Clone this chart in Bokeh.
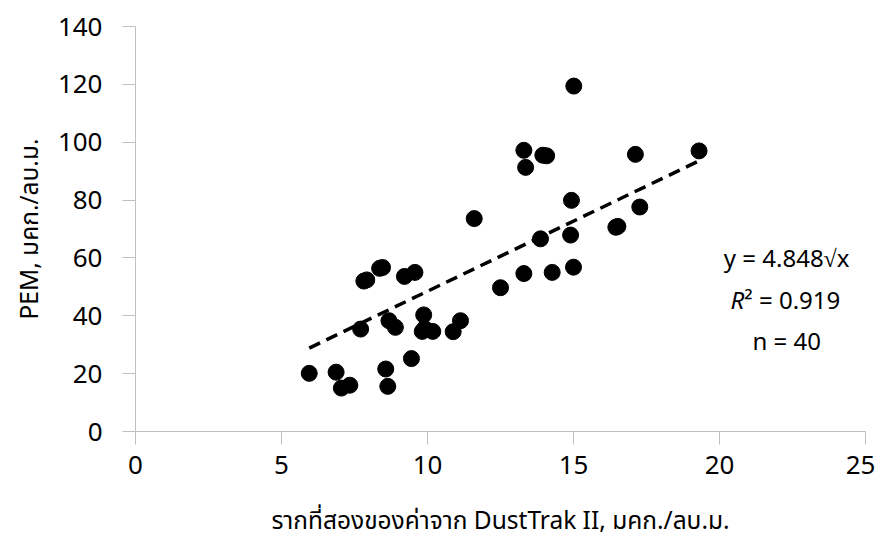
from bokeh.plotting import figure
from bokeh.models import ColumnDataSource, Range1d, FixedTicker, Label
from bokeh.embed import file_html
from bokeh.resources import INLINE

# sqrt of DustTrak II readings
x_vals = [5.95, 6.87, 7.05, 7.34, 8.57, 8.64, 9.45, 7.71, 8.68, 8.90,
          9.87, 9.82, 9.90, 10.18, 10.88, 11.13, 12.50, 7.82, 7.92, 8.36,
          8.46, 9.21, 9.57, 15.01, 13.30, 13.95, 14.08, 13.36, 17.12, 11.60,
          14.93, 17.27, 16.45, 16.52, 13.87, 14.90, 13.30, 14.27, 15.00, 19.30]
# PEM readings
y_vals = [20.1, 20.5, 15.0, 16.0, 21.6, 15.6, 25.2, 35.4, 38.3, 36.0,
          40.3, 34.6, 35.6, 34.6, 34.5, 38.3, 49.7, 52.0, 52.4, 56.4,
          56.7, 53.6, 55.0, 119.4, 97.2, 95.5, 95.3, 91.3, 95.8, 73.6,
          79.9, 77.6, 70.6, 70.9, 66.6, 67.9, 54.6, 55.0, 56.8, 97.0]

coef = 4.848
x_ticks = [0, 5, 10, 15, 20, 25]
y_ticks = [0, 20, 40, 60, 80, 100, 120, 140]
eq_lines = ["y = 4.848\u221ax", "n = 40"]
r2_text = "\u00b2 = 0.919"

FONT = "Noto Sans"
THAI = "Noto Sans Thai, Noto Sans, sans-serif"

p = figure(width=875, height=542, output_backend="svg", toolbar_location=None,
           x_range=Range1d(0, 25), y_range=Range1d(0, 140),
           min_border_left=135, min_border_right=10, min_border_top=26,
           min_border_bottom=110)
p.outline_line_color = None
p.grid.visible = False

for ax in (p.xaxis[0], p.yaxis[0]):
    ax.axis_line_color = "#bfbfbf"
    ax.major_tick_line_color = "#bfbfbf"
    ax.minor_tick_line_color = None
    ax.major_tick_in = 0
    ax.major_tick_out = 13
    ax.major_label_text_font = FONT
    ax.major_label_text_font_size = "26px"
    ax.major_label_text_color = "#000000"
    ax.axis_label_text_font = THAI
    ax.axis_label_text_font_size = "24.5px"
    ax.axis_label_text_font_style = "normal"
    ax.axis_label_text_color = "#000000"

p.xaxis.ticker = FixedTicker(ticks=x_ticks)
p.yaxis.ticker = FixedTicker(ticks=y_ticks)
p.xaxis.major_label_standoff = 11
p.yaxis.major_label_standoff = 20
p.xaxis.axis_label = "รากที่สองของค่าจาก DustTrak II, มคก./ลบ.ม."
p.yaxis.axis_label = "PEM, มคก./ลบ.ม."
p.xaxis.axis_label_standoff = 26
p.yaxis.axis_label_standoff = 6

# trend line
xmin, xmax = min(x_vals), max(x_vals)
line_src = ColumnDataSource(dict(x=[xmin, xmax], y=[coef * xmin, coef * xmax]))
p.line("x", "y", source=line_src, line_color="black", line_width=3.5,
       line_dash="12 7")

src = ColumnDataSource(dict(x=x_vals, y=y_vals))
p.scatter("x", "y", source=src, size=16, fill_color="black", line_color="black")

# annotations
ann_x = 22.3
ann_y = [60.0, 31.4]
for t, yy in zip(eq_lines, ann_y):
    p.add_layout(Label(x=ann_x, y=yy, text=t, text_align="center",
                       text_baseline="middle", text_font=FONT,
                       text_font_size="24px", text_color="black"))
r_x = 20.85
r_y = 45.5
p.add_layout(Label(x=r_x, y=r_y, text="R", text_align="right",
                   text_baseline="middle", text_font=FONT,
                   text_font_style="italic", text_font_size="24px",
                   text_color="black"))
p.add_layout(Label(x=r_x, y=r_y, text=r2_text, text_align="left",
                   text_baseline="middle", text_font=FONT,
                   text_font_size="24px", text_color="black"))

open("out.html", "w").write(file_html(p, INLINE))
